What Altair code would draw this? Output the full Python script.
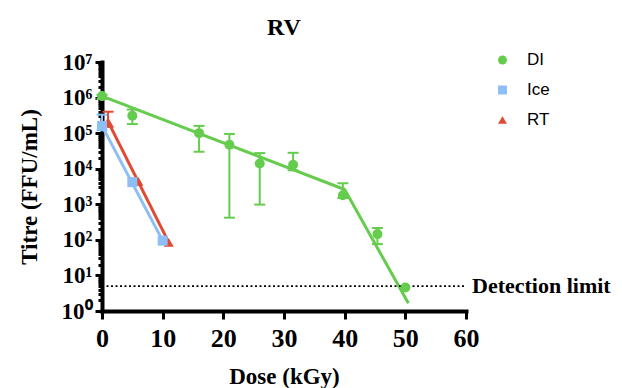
import altair as alt
import pandas as pd

groups = ["DI", "Ice", "RT"]
colors = ["#66CC4D", "#8DBEF5", "#E04A32"]
shapes = ["circle", "square", "triangle-up"]

# measured points (dose kGy, titre FFU/mL)
di_dose = [0, 5, 16, 21, 26, 31.5, 39.7, 45.4, 50]
di_titre = [1.1e6, 3.1e5, 1.0e5, 4.7e4, 1.4e4, 1.3e4, 1.8e3, 145, 4.6]
di_low = [9.1e5, 1.8e5, 3.0e4, 420, 980, 9.0e3, 1.5e3, 76, None]
di_high = [1.2e6, 4.6e5, 1.6e5, 9.5e4, 2.75e4, 2.8e4, 3.9e3, 215, None]

ice_dose = [0, 5, 10]
ice_titre = [1.6e5, 4.2e3, 95]
ice_low = [1.2e5, None, None]
ice_high = [3.3e5, None, None]

rt_dose = [1, 6, 11]
rt_titre = [2.1e5, 4.4e3, 85]
rt_low = [1.5e5, None, None]
rt_high = [4.0e5, None, None]

# fitted lines
di_fit_dose = [0, 40, 50.5]
di_fit_titre = [1.1e6, 2.6e3, 1.66]
ice_fit_dose = [0, 10]
ice_fit_titre = [1.6e5, 95]
rt_fit_dose = [1, 11]
rt_fit_titre = [2.1e5, 85]

detection_limit = 5
x_max = 60

def frame(g, d, t, lo=None, hi=None):
    df = pd.DataFrame({"group": g, "dose": d, "titre": t})
    if lo is not None:
        df["low"] = lo
        df["high"] = hi
    return df

pts = pd.concat([
    frame("RT", rt_dose, rt_titre, rt_low, rt_high),
    frame("Ice", ice_dose, ice_titre, ice_low, ice_high),
    frame("DI", di_dose, di_titre, di_low, di_high),
], ignore_index=True)
pts["order"] = pts["group"].map({"RT": 0, "Ice": 1, "DI": 2})

fits = pd.concat([
    frame("DI", di_fit_dose, di_fit_titre),
    frame("Ice", ice_fit_dose, ice_fit_titre),
    frame("RT", rt_fit_dose, rt_fit_titre),
], ignore_index=True)

err = pts.dropna(subset=["low"]).copy()
err_long = pd.concat([
    err[["group", "dose", "low"]].rename(columns={"low": "cap"}),
    err[["group", "dose", "high"]].rename(columns={"high": "cap"}),
], ignore_index=True)

maj = [10 ** k for k in range(0, 8)]
minor = [m * 10 ** k for k in range(0, 7) for m in range(2, 10)]
yvals = sorted(maj + minor)

is_pow = "abs(log(datum.value)/LN10 - round(log(datum.value)/LN10)) < 0.001"
sup = "['\u2070','\u00b9','\u00b2','\u00b3','\u2074','\u2075','\u2076','\u2077']"

xscale = alt.Scale(domain=[0, x_max], nice=False, zero=False)
yscale = alt.Scale(type="log", domain=[1, 1e7], nice=False)

serif = "Liberation Serif"

xaxis = alt.Axis(
    title="Dose (kGy)", values=list(range(0, 61, 5)),
    labelExpr="datum.value % 10 == 0 ? datum.label : ''",
    tickSize={"condition": {"test": "datum.value % 10 == 0", "value": 8}, "value": 6},
    labelFontSize=26, labelPadding=6, labelFlush=False, labelOverlap=False,
    titleFontSize=23, titlePadding=14,
)
yaxis = alt.Axis(
    title="Titre (FFU/mL)", values=yvals,
    labelExpr=f"{is_pow} ? '10' + {sup}[round(log(datum.value)/LN10)] : ''",
    tickSize={"condition": {"test": is_pow, "value": 7}, "value": 4},
    labelFontSize=23, labelPadding=3, labelOverlap=False,
    titleFontSize=23, titlePadding=20,
)

layers = []
for g, c in zip(groups, colors):
    f = fits[fits["group"] == g]
    layers.append(alt.Chart(f).mark_line(strokeWidth=3, color=c).encode(
        x=alt.X("dose:Q", scale=xscale, axis=xaxis),
        y=alt.Y("titre:Q", scale=yscale, axis=yaxis),
    ))
for g, c in zip(groups, colors):
    e = err[err["group"] == g]
    el = err_long[err_long["group"] == g]
    layers.append(alt.Chart(e).mark_rule(strokeWidth=2, color=c).encode(
        x="dose:Q", y="low:Q", y2="high:Q"))
    layers.append(alt.Chart(el).mark_tick(orient="horizontal", size=11, thickness=2,
                                          color=c, opacity=1).encode(
        x="dose:Q", y="cap:Q"))

limit_df = pd.DataFrame({"x0": [0], "x1": [x_max], "y": [detection_limit], "label": ["Detection limit"]})
layers.append(alt.Chart(limit_df).mark_rule(strokeDash=[2, 2.5], strokeWidth=1.6, color="black").encode(
    x="x0:Q", x2="x1:Q", y="y:Q"))
layers.append(alt.Chart(limit_df).mark_text(
    align="left", baseline="middle", dx=6, font=serif, fontWeight="bold", fontSize=22, color="black"
).encode(x="x1:Q", y="y:Q", text="label:N"))

layers.append(alt.Chart(pts).mark_point(filled=True, opacity=1, size=100).encode(
    x="dose:Q", y="titre:Q",
    color=alt.Color("group:N", scale=alt.Scale(domain=groups, range=colors), title=None),
    shape=alt.Shape("group:N", scale=alt.Scale(domain=groups, range=shapes), title=None),
    order="order:Q",
))

chart = alt.layer(*layers).properties(
    width=364, height=249,
    title=alt.Title("RV", font=serif, fontSize=24, fontWeight="bold", anchor="middle", offset=11),
    autosize=alt.AutoSizeParams(type="none"),
    padding={"left": 94, "top": 54, "right": 148, "bottom": 77},
).configure_view(stroke=None).configure_axis(
    grid=False, domainColor="black", domainWidth=4, tickColor="black", tickWidth=3,
    labelFont=serif, labelFontWeight="bold", labelColor="black",
    titleFont=serif, titleFontWeight="bold", titleColor="black", domainCap="square",
).configure_legend(
    orient="none", legendX=392, legendY=-10.5, padding=0,
    labelFont="Liberation Sans", labelFontSize=17, labelColor="black",
    symbolSize=80, symbolStrokeWidth=0, rowPadding=12, labelOffset=16,
)

chart.save("out.html", embed_options={"renderer": "svg", "actions": False})
